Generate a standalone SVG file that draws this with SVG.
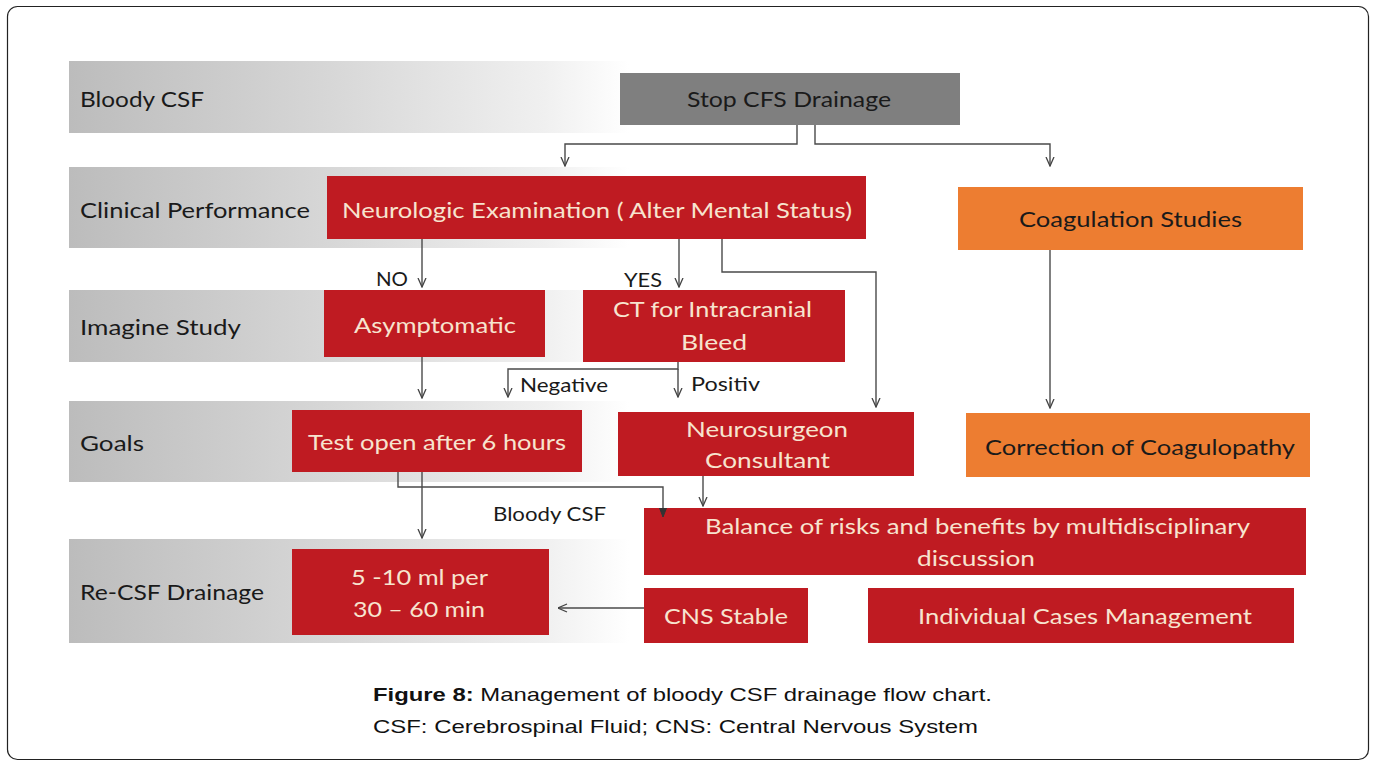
<svg xmlns="http://www.w3.org/2000/svg" width="1375" height="767" viewBox="0 0 1375 767">
<defs>
<linearGradient id="band" x1="0" y1="0" x2="1" y2="0">
<stop offset="0" stop-color="#bcbcbc"/>
<stop offset="0.45" stop-color="#d6d6d6"/>
<stop offset="0.85" stop-color="#f0f0f0"/>
<stop offset="1" stop-color="#ffffff"/>
</linearGradient>
<marker id="arr" viewBox="0 0 10 10" refX="9.5" refY="5" markerWidth="10" markerHeight="10" markerUnits="userSpaceOnUse" orient="auto">
<path d="M0.5,1 L9.5,5 L0.5,9" fill="none" stroke="#444" stroke-width="1.3"/>
</marker>
<marker id="arrf" viewBox="0 0 10 10" refX="9.5" refY="5" markerWidth="10" markerHeight="10" markerUnits="userSpaceOnUse" orient="auto">
<path d="M0.5,1.5 L9.5,5 L0.5,8.5 Z" fill="#333" stroke="#333" stroke-width="1"/>
</marker>
<style>
.band{fill:url(#band)}
.red{fill:#bf1b22}
.gray{fill:#7f7f7f}
.orange{fill:#ed7d31}
.lbl{font-family:Lato,"Open Sans",sans-serif;font-size:22px;fill:#1a1a1a}
.wt{font-family:Lato,"Open Sans",sans-serif;font-size:22px;fill:#f7e4cf}
.dk{font-family:Lato,"Open Sans",sans-serif;font-size:22px;fill:#1a1a1a}
.sm{font-family:Lato,"Open Sans",sans-serif;font-size:20px;fill:#1a1a1a}
.cap{font-family:"Liberation Sans",Arial,sans-serif;font-size:19px;fill:#111}
.conn path{fill:none;stroke:#4a4a4a;stroke-width:1.4}
</style>
</defs>
<rect x="7.5" y="6.5" width="1361" height="753" rx="10" ry="10" fill="#fff" stroke="#222" stroke-width="1.2"/>

<g id="bands">
<rect class="band" x="69" y="61" width="560" height="72"/>
<rect class="band" x="69" y="167" width="560" height="81"/>
<rect class="band" x="69" y="290" width="560" height="72"/>
<rect class="band" x="69" y="401" width="560" height="81"/>
<rect class="band" x="69" y="539" width="560" height="104"/>
</g>
<g id="row-labels">
<text class="lbl" x="80" y="107" textLength="124" lengthAdjust="spacingAndGlyphs">Bloody CSF</text>
<text class="lbl" x="80" y="218" textLength="230" lengthAdjust="spacingAndGlyphs">Clinical Performance</text>
<text class="lbl" x="80" y="335" textLength="161" lengthAdjust="spacingAndGlyphs">Imagine Study</text>
<text class="lbl" x="80" y="451" textLength="64" lengthAdjust="spacingAndGlyphs">Goals</text>
<text class="lbl" x="80" y="600" textLength="184" lengthAdjust="spacingAndGlyphs">Re-CSF Drainage</text>
</g>

<g id="stop">
<rect class="gray" x="620" y="73" width="340" height="52"/>
<text class="dk" x="687" y="107" textLength="204" lengthAdjust="spacingAndGlyphs">Stop CFS Drainage</text>
</g>
<g id="neuro-exam">
<rect class="red" x="327" y="176" width="539" height="63"/>
<text class="wt" x="342" y="218" textLength="510" lengthAdjust="spacingAndGlyphs">Neurologic Examination ( Alter Mental Status)</text>
</g>
<g id="coag-studies">
<rect class="orange" x="958" y="187" width="345" height="63"/>
<text class="dk" x="1019" y="227" textLength="223" lengthAdjust="spacingAndGlyphs">Coagulation Studies</text>
</g>
<g id="asymptomatic">
<rect class="red" x="324" y="290" width="221" height="67"/>
<text class="wt" x="354" y="333" textLength="162" lengthAdjust="spacingAndGlyphs">Asymptomatic</text>
</g>
<g id="ct">
<rect class="red" x="583" y="290" width="262" height="72"/>
<text class="wt" x="613" y="317" textLength="199" lengthAdjust="spacingAndGlyphs">CT for Intracranial</text>
<text class="wt" x="681" y="350" font-size="23" textLength="66" lengthAdjust="spacingAndGlyphs">Bleed</text>
</g>
<g id="test-open">
<rect class="red" x="292" y="410" width="290" height="62"/>
<text class="wt" x="308" y="450" textLength="258" lengthAdjust="spacingAndGlyphs">Test open after 6 hours</text>
</g>
<g id="neurosurgeon">
<rect class="red" x="618" y="412" width="296" height="64"/>
<text class="wt" x="686" y="437" textLength="162" lengthAdjust="spacingAndGlyphs">Neurosurgeon</text>
<text class="wt" x="705" y="468" textLength="125" lengthAdjust="spacingAndGlyphs">Consultant</text>
</g>
<g id="correction">
<rect class="orange" x="966" y="413" width="344" height="64"/>
<text class="dk" x="985" y="455" textLength="310" lengthAdjust="spacingAndGlyphs">Correction of Coagulopathy</text>
</g>
<g id="balance">
<rect class="red" x="644" y="508" width="662" height="67"/>
<text class="wt" x="705" y="534" textLength="545" lengthAdjust="spacingAndGlyphs">Balance of risks and benefits by multidisciplinary</text>
<text class="wt" x="917" y="566" textLength="118" lengthAdjust="spacingAndGlyphs">discussion</text>
</g>
<g id="drain-rate">
<rect class="red" x="292" y="549" width="257" height="86"/>
<text class="wt" x="351" y="585" font-size="24" textLength="137" lengthAdjust="spacingAndGlyphs">5 -10 ml per</text>
<text class="wt" x="353" y="617" font-size="24" textLength="132" lengthAdjust="spacingAndGlyphs">30 – 60 min</text>
</g>
<g id="cns-stable">
<rect class="red" x="644" y="588" width="164" height="55"/>
<text class="wt" x="664" y="624" textLength="124" lengthAdjust="spacingAndGlyphs">CNS Stable</text>
</g>
<g id="individual">
<rect class="red" x="868" y="588" width="426" height="55"/>
<text class="wt" x="918" y="624" textLength="334" lengthAdjust="spacingAndGlyphs">Individual Cases Management</text>
</g>

<g id="connectors" class="conn">
<path d="M797,125 V144 H565 V166" marker-end="url(#arr)"/>
<path d="M815,125 V144 H1050 V166" marker-end="url(#arr)"/>
<path d="M422,239 V287" marker-end="url(#arr)"/>
<path d="M679,239 V287" marker-end="url(#arr)"/>
<path d="M722,239 V272 H876 V407" marker-end="url(#arr)"/>
<path d="M678,362 V369 H508 V397" marker-end="url(#arr)"/>
<path d="M678,369 V397" marker-end="url(#arr)"/>
<path d="M422,357 V398" marker-end="url(#arr)"/>
<path d="M422,472 V538" marker-end="url(#arr)"/>
<path d="M398,472 V487 H663 V517" marker-end="url(#arrf)"/>
<path d="M703,476 V506" marker-end="url(#arr)"/>
<path d="M1050,250 V408" marker-end="url(#arr)"/>
<path d="M644,608 H558" marker-end="url(#arr)"/>
</g>
<g id="connector-labels">
<text class="sm" x="376" y="286" textLength="32" lengthAdjust="spacingAndGlyphs">NO</text>
<text class="sm" x="624" y="287" textLength="38" lengthAdjust="spacingAndGlyphs">YES</text>
<text class="sm" x="520" y="392" textLength="88" lengthAdjust="spacingAndGlyphs">Negative</text>
<text class="sm" x="691" y="391" textLength="69" lengthAdjust="spacingAndGlyphs">Positiv</text>
<text class="sm" x="493" y="521" textLength="113" lengthAdjust="spacingAndGlyphs">Bloody CSF</text>
</g>

<g id="caption">
<text class="cap" x="373" y="701" textLength="619" lengthAdjust="spacingAndGlyphs"><tspan font-weight="bold">Figure 8:</tspan> Management of bloody CSF drainage flow chart.</text>
<text class="cap" x="373" y="733" textLength="605" lengthAdjust="spacingAndGlyphs">CSF: Cerebrospinal Fluid; CNS: Central Nervous System</text>
</g>
</svg>
